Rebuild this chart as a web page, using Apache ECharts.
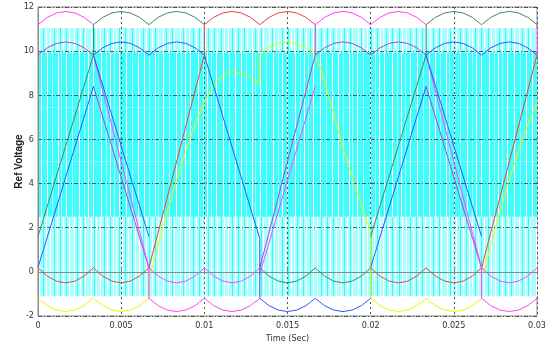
<!DOCTYPE html>
<html>
<head>
<meta charset="utf-8">
<script src="https://cdn.jsdelivr.net/npm/echarts@6/dist/echarts.min.js"></script>
<style>
html, body { margin: 0; padding: 0; background: #fff; }
#chart { width: 550px; height: 345px; }
</style>
</head>
<body>
<div id="chart"></div>
<script>
// tick labels
var xTickLabels = ['0', '0.005', '0.01', '0.015', '0.02', '0.025', '0.03'];
var yTickLabels = ['-2', '0', '2', '4', '6', '8', '10', '12'];

// 60 degree sectors of the 50 Hz period
var sectorT = [0, 0.003333, 0.006667, 0.01, 0.013333, 0.016667, 0.02, 0.023333, 0.026667, 0.03];
var arcStep = [0, 1 / 6, 2 / 6, 3 / 6, 4 / 6, 5 / 6, 1];

// envelope caps (one sector each)
var capTop = [11.2, 11.53, 11.73, 11.8, 11.73, 11.53, 11.2];
var capUpper = [9.82, 10.15, 10.35, 10.42, 10.35, 10.15, 9.82];
var cupLower = [0.18, -0.19, -0.42, -0.5, -0.42, -0.19, 0.18];
var cupBottom = [-1.2, -1.53, -1.73, -1.8, -1.73, -1.53, -1.2];

// which signal sits on each row in each sector
var topRow = ['mag', 'grn', 'grn', 'red', 'red', 'mag', 'mag', 'grn', 'grn'];
var upperRow = ['pur', 'blu', 'blu', null, 'yel', 'pur', 'pur', 'blu', 'blu'];
var lowerRow = ['red', 'red', 'mag', 'mag', 'grn', 'grn', 'red', 'red', 'mag'];
var bottomRow = ['yel', 'yel', 'mag', 'mag', 'blu', 'blu', 'yel', 'yel', 'mag'];

// ramps and jumps
var grnRamps = [
    [[0, 1.6], [0.003333, 9.82], [0.003333, 11.2]],
    [[0.02, 1.6], [0.023333, 9.82], [0.023333, 11.2]]
];
var bluRamps = [
    [[0, 0.2], [0.003333, 8.4]],
    [[0.003333, 9.82], [0.006667, 1.6]],
    [[0.01, 9.82], [0.013333, 1.5], [0.013333, -1.2]],
    [[0.02, 0.2], [0.023333, 8.4]],
    [[0.023333, 9.82], [0.026667, 1.6]]
];
var magRamps = [
    [[0.003333, 9.82], [0.006667, 0.18], [0.006667, -1.2]],
    [[0.013333, -0.1], [0.016667, 8.4]],
    [[0.023333, 9.82], [0.026667, 0.18], [0.026667, -1.2]],
    [[0.03, 9.82], [0.03, 11.2]]
];
var purRamps = [
    [[0.003333, 8.4], [0.006667, 0.18]],
    [[0.013333, 0.18], [0.016667, 9.82], [0.016667, 11.2]],
    [[0.023333, 8.4], [0.026667, 0.18]]
];
var redRamps = [
    [[0.006667, 0.18], [0.01, 9.82], [0.01, 11.2]],
    [[0.026667, 0.18], [0.03, 9.82]]
];
var yelCurves = [
    [[0.006667, -1.2], [0.006667, 0], [0.0068, 0], [0.0075, 2.0], [0.0083, 4.1], [0.0092, 6.2], [0.01, 7.7],
     [0.0108, 8.7], [0.01166, 9.1], [0.0125, 8.95], [0.013333, 8.5], [0.013333, 9.82]],
    [[0.016667, 9.82], [0.017, 9.2], [0.0175, 7.9], [0.0182, 6.0], [0.019, 4.0], [0.02, 1.8], [0.02, -1.2]],
    [[0.026667, -1.2], [0.026667, 0], [0.0268, 0], [0.0275, 2.0], [0.0283, 4.1], [0.0292, 6.2], [0.03, 7.7]]
];

// multilevel PWM output: switching levels
var pwmLevels = [-1.1, 0.15, 2.5, 5, 7.45, 9.95, 11.05];

// ---- styles ----
var lineColors = {
    mag: '#ff44ff', grn: '#4d8466', red: '#e84444',
    blu: '#3355ff', pur: '#b044cc', yel: '#f4f400'
};
var bandShade = ['light', 'light', 'dark', 'dark', 'dark', 'light'];
var narrow = '"Liberation Sans Narrow", "DejaVu Sans Condensed", "Liberation Sans", sans-serif';

function stripes(base, tile, white, soft, softColor) {
    var c = document.createElement('canvas');
    c.width = tile; c.height = 4;
    var g = c.getContext('2d');
    g.fillStyle = base; g.fillRect(0, 0, tile, 4);
    g.fillStyle = softColor;
    soft.forEach(function (x) { g.fillRect(x, 0, 1, 4); });
    g.fillStyle = '#ffffff';
    white.forEach(function (x) { g.fillRect(x, 0, 1, 4); });
    return c;
}
var patterns = {
    dark: { image: stripes('#40fcfc', 97, [4, 13, 22, 29, 41, 47, 58, 66, 79, 88, 93], [9, 17, 35, 52, 61, 72, 84], '#a0ffff'), repeat: 'repeat' },
    light: { image: stripes('#aaffff', 89, [2, 7, 11, 18, 24, 27, 33, 39, 46, 50, 57, 63, 69, 74, 80, 85], [5, 15, 21, 30, 36, 43, 54, 60, 66, 77, 83], '#3cf8f8'), repeat: 'repeat' }
};

// ---- build the polylines ----
var paths = { mag: [], grn: [], red: [], blu: [], pur: [], yel: [] };
function push(key, pts) {
    paths[key] = paths[key].concat(pts, [['-', '-']]);
}
function addRow(row, prof) {
    var cur = null, pts = [];
    row.forEach(function (key, k) {
        var arc = arcStep.map(function (f, i) {
            return [sectorT[k] + f * (sectorT[k + 1] - sectorT[k]), prof[i]];
        });
        if (key === cur) {
            pts = pts.concat(arc.slice(1));
        } else {
            if (cur) push(cur, pts);
            cur = key; pts = arc;
        }
    });
    if (cur) push(cur, pts);
}
addRow(topRow, capTop);
addRow(upperRow, capUpper);
addRow(lowerRow, cupLower);
addRow(bottomRow, cupBottom);
grnRamps.forEach(function (p) { push('grn', p); });
bluRamps.forEach(function (p) { push('blu', p); });
magRamps.forEach(function (p) { push('mag', p); });
purRamps.forEach(function (p) { push('pur', p); });
redRamps.forEach(function (p) { push('red', p); });
yelCurves.forEach(function (p) { push('yel', p); });

var bands = [];
for (var i = 0; i < pwmLevels.length - 1; i++) bands.push([pwmLevels[i], pwmLevels[i + 1]]);

var chart = echarts.init(document.getElementById('chart'));

var series = [{
    type: 'custom',
    z: 1,
    silent: true,
    data: bands,
    encode: { x: -1, y: [0, 1] },
    renderItem: function (params, api) {
        var lo = api.value(0), hi = api.value(1);
        var p0 = api.coord([0, hi]), p1 = api.coord([0.03, lo]);
        return {
            type: 'rect',
            shape: { x: p0[0], y: p0[1], width: p1[0] - p0[0], height: p1[1] - p0[1] },
            style: { fill: patterns[bandShade[params.dataIndex]] }
        };
    }
}];
['yel', 'pur', 'mag', 'blu', 'red', 'grn'].forEach(function (key) {
    series.push({
        type: 'line',
        z: 5,
        data: paths[key],
        showSymbol: false,
        connectNulls: false,
        animation: false,
        lineStyle: { color: lineColors[key], width: 1 }
    });
});

chart.setOption({
    animation: false,
    grid: {
        left: 38, right: 13, top: 7, bottom: 29,
        containLabel: false, outerBoundsMode: 'none',
        show: true, borderColor: '#8a8a8a', borderWidth: 1, backgroundColor: '#fff'
    },
    xAxis: {
        type: 'value', min: 0, max: 0.03, interval: 0.005, z: 3,
        name: 'Time (Sec)', nameLocation: 'middle', nameGap: 18, nameMoveOverlap: false,
        nameTextStyle: { fontSize: 9, color: '#333', fontFamily: narrow },
        axisLine: { show: true, lineStyle: { color: '#8a8a8a' } },
        axisTick: { show: true, inside: true, length: 4, lineStyle: { color: '#8a8a8a' } },
        axisLabel: {
            fontSize: 9, color: '#333', margin: 5, fontFamily: narrow,
            formatter: function (v) { return xTickLabels[Math.round(v / 0.005)]; }
        },
        splitLine: { show: true, lineStyle: { color: '#555', type: [2, 3], width: 1 } }
    },
    yAxis: {
        type: 'value', min: -2, max: 12, interval: 2, z: 3,
        name: 'Ref Voltage', nameLocation: 'middle', nameGap: 14, nameMoveOverlap: false,
        nameTextStyle: { fontSize: 10, fontWeight: 'bold', color: '#222', fontFamily: 'Liberation Sans' },
        axisLine: { show: true, lineStyle: { color: '#8a8a8a' } },
        axisTick: { show: false },
        axisLabel: {
            fontSize: 9, color: '#333', margin: 4, fontFamily: narrow,
            formatter: function (v) { return yTickLabels[Math.round((v + 2) / 2)]; }
        },
        splitLine: { show: true, lineStyle: { color: '#333', type: [4, 2, 1, 2], width: 0.8 } }
    },
    series: series
});
</script>
</body>
</html>
